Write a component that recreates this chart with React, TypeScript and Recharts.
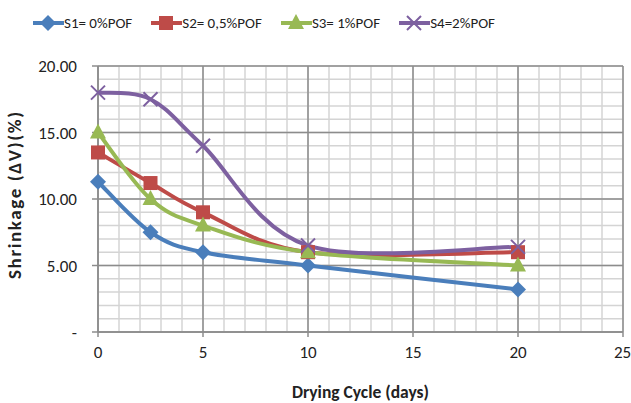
import { LineChart, Line, XAxis, YAxis, CartesianGrid } from 'recharts';

const days = [0, 2.5, 5, 10, 20];
const s1 = [11.3, 7.5, 6.0, 5.0, 3.2];
const s2 = [13.5, 11.2, 9.0, 6.0, 6.0];
const s3 = [15.0, 10.0, 8.0, 6.0, 5.0];
const s4 = [18.0, 17.5, 14.0, 6.5, 6.4];

const xTicks = [0, 5, 10, 15, 20, 25];
const yTicks = [0, 5, 10, 15, 20];
const xMinor = Array.from({ length: 26 }, (_, i) => i);
const yMinor = Array.from({ length: 21 }, (_, i) => i);
const X_MAX = 25;
const Y_MAX = 20;

const SERIES = [
  { key: 's1', name: 'S1= 0%POF', color: '#4a7ebb', shape: 'diamond' },
  { key: 's2', name: 'S2= 0,5%POF', color: '#be4b48', shape: 'square' },
  { key: 's3', name: 'S3= 1%POF', color: '#98b954', shape: 'triangle' },
  { key: 's4', name: 'S4=2%POF', color: '#7d60a0', shape: 'cross' },
];

const data = days.map((d, i) => ({ day: d, s1: s1[i], s2: s2[i], s3: s3[i], s4: s4[i] }));

const FONT = "Carlito, 'Liberation Sans Narrow', 'Open Sans', sans-serif";

// Excel-like smoothed line (Catmull-Rom through the points)
const smoothCurve = (context: any) => {
  let pts: number[][] = [];
  return {
    areaStart() {},
    areaEnd() {},
    lineStart() {
      pts = [];
    },
    point(x: number, y: number) {
      pts.push([+x, +y]);
    },
    lineEnd() {
      if (!pts.length) return;
      context.moveTo(pts[0][0], pts[0][1]);
      for (let i = 0; i < pts.length - 1; i++) {
        const p0 = pts[i - 1] || pts[i];
        const p1 = pts[i];
        const p2 = pts[i + 1];
        const p3 = pts[i + 2] || pts[i + 1];
        context.bezierCurveTo(
          p1[0] + (p2[0] - p0[0]) / 6,
          p1[1] + (p2[1] - p0[1]) / 6,
          p2[0] - (p3[0] - p1[0]) / 6,
          p2[1] - (p3[1] - p1[1]) / 6,
          p2[0],
          p2[1]
        );
      }
    },
  };
};

const Marker = ({ cx, cy, shape, color }: any) => {
  if (cx == null || cy == null) return null;
  switch (shape) {
    case 'diamond':
      return <path d={`M${cx},${cy - 8}L${cx + 8},${cy}L${cx},${cy + 8}L${cx - 8},${cy}Z`} fill={color} />;
    case 'square':
      return <rect x={cx - 7} y={cy - 7} width={14} height={14} fill={color} />;
    case 'triangle':
      return <path d={`M${cx},${cy - 9}L${cx + 8},${cy + 6}L${cx - 8},${cy + 6}Z`} fill={color} />;
    default:
      return (
        <path
          d={`M${cx - 7},${cy - 7}L${cx + 7},${cy + 7}M${cx - 7},${cy + 7}L${cx + 7},${cy - 7}`}
          stroke={color}
          strokeWidth={2}
        />
      );
  }
};

const LegendBox = () => (
  <div
    style={{
      position: 'absolute',
      left: 33,
      top: 14,
      display: 'flex',
      gap: 19,
      fontFamily: FONT,
      fontSize: 15,
      color: '#222',
    }}
  >
    {SERIES.map((s) => (
      <div key={s.key} style={{ display: 'flex', alignItems: 'center' }}>
        <svg width={31} height={18}>
          <line x1={0} y1={9} x2={31} y2={9} stroke={s.color} strokeWidth={4} />
          <Marker cx={15} cy={9} shape={s.shape} color={s.color} />
        </svg>
        <span>{s.name}</span>
      </div>
    ))}
  </div>
);

export default function App() {
  return (
    <div style={{ position: 'absolute', left: 0, top: 0, width: 631, height: 403, background: '#fff' }}>
      <LegendBox />
      <LineChart width={631} height={403} data={data} margin={{ top: 66, right: 8, left: 38, bottom: 0 }}>
        <CartesianGrid
          stroke="#d4d4d4"
          strokeWidth={1.5}
          verticalCoordinatesGenerator={({ offset }: any) =>
            xMinor.map((v) => offset.left + (offset.width * v) / X_MAX)
          }
          horizontalCoordinatesGenerator={({ offset }: any) =>
            yMinor.map((v) => offset.top + offset.height * (1 - v / Y_MAX))
          }
        />
        <CartesianGrid stroke="#8c8c8c" strokeWidth={1.5} />
        <XAxis
          dataKey="day"
          type="number"
          domain={[0, X_MAX]}
          ticks={xTicks}
          height={71}
          stroke="#8c8c8c"
          strokeWidth={1.5}
          tickSize={5}
          tick={{ fill: '#222', fontSize: 17, fontFamily: FONT }}
          tickMargin={9}
          label={{ value: 'Drying Cycle (days)', position: 'insideBottom', offset: 5, fill: '#222', fontSize: 17.5, fontWeight: 'bold', fontFamily: FONT }}
        />
        <YAxis
          type="number"
          domain={[0, Y_MAX]}
          ticks={yTicks}
          width={60}
          stroke="#8c8c8c"
          strokeWidth={1.5}
          tickSize={6}
          tickMargin={15}
          tickFormatter={(v: number) => (v === 0 ? '-' : v.toFixed(2))}
          tick={{ fill: '#222', fontSize: 17, fontFamily: FONT }}
          label={{ value: 'Shrinkage (ΔV)(%)', angle: -90, position: 'insideLeft', offset: -24, dy: 80, fill: '#222', fontSize: 19, fontWeight: 'bold', fontFamily: FONT, letterSpacing: 1.6 }}
        />
        {SERIES.map((s) => (
          <Line
            key={s.key}
            dataKey={s.key}
            name={s.name}
            type={smoothCurve as any}
            stroke={s.color}
            strokeWidth={4}
            dot={(p: any) => <Marker key={`${s.key}-${p.index}`} cx={p.cx} cy={p.cy} shape={s.shape} color={s.color} />}
            activeDot={false}
            isAnimationActive={false}
          />
        ))}
      </LineChart>
    </div>
  );
}
